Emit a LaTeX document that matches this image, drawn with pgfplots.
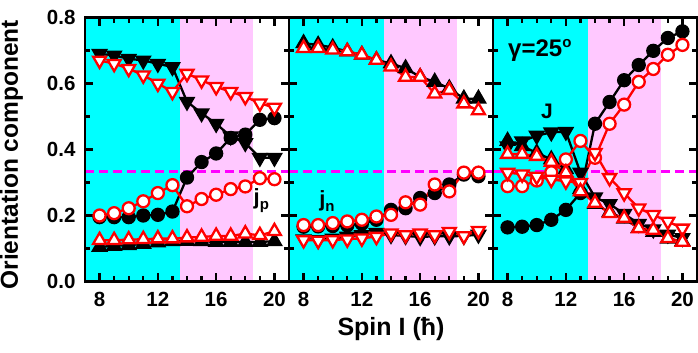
\documentclass[border=0pt]{standalone}
\usepackage{fontspec}
\setmainfont{Liberation Sans}
\usepackage{pgfplots}
\pgfplotsset{compat=1.18}
\definecolor{bgcyan}{RGB}{0,255,255}
\definecolor{bgpink}{RGB}{255,200,255}
\definecolor{dred}{RGB}{255,0,0}
\definecolor{dmag}{RGB}{255,0,255}

\pgfplotsset{
  panel/.style={
    scale only axis, width=204pt, height=264pt, anchor=south west,
    xmin=7, xmax=21, ymin=0, ymax=0.8,
    xtick={8,12,16,20}, minor xtick={9,10,11,13,14,15,17,18,19},
    ytick={0,0.2,0.4,0.6,0.8}, minor ytick={0.1,0.3,0.5,0.7},
    tick align=inside, major tick length=8pt, minor tick length=5pt,
    tick style={black, line width=2.2pt},
    axis line style={line width=2.8pt},
    ticklabel style={font=\bfseries\fontsize{20.5}{22}\selectfont},
    /pgf/number format/assume math mode=true,
    yticklabel style={xshift=-6pt, /pgf/number format/.cd, fixed, fixed zerofill, precision=1},
    xticklabel style={yshift=-7pt},
    axis on top,
  },
  bk/.style={black, line width=2.3pt, mark size=6pt},
  rd/.style={dred, line width=2.3pt, mark size=6pt, mark options={fill=white}},
  up/.style={mark=triangle*, mark size=7.5pt},
  dn/.style={mark=triangle*, mark size=7.5pt, mark options={rotate=180}},
  rdn/.style={mark=triangle*, mark size=7.5pt, mark options={rotate=180, fill=white}},
  ci/.style={mark=*},
}
\newcommand{\bgfill}{%
  \addplot[draw=none, fill=bgcyan] coordinates {(7,0.8) (13.5,0.8)} \closedcycle;
  \addplot[draw=none, fill=bgpink] coordinates {(13.5,0.8) (18.5,0.8)} \closedcycle;
  \addplot[dmag, line width=2.6pt, dash pattern=on 9pt off 5pt] coordinates {(7,0.333) (21,0.333)};
}

\begin{document}
\begin{tikzpicture}
\useasboundingbox (0,0) rectangle (698pt,353pt);

% panel 1: j_p
\begin{axis}[panel, at={(85pt,71.5pt)},
  ylabel={Orientation component},
  ylabel style={at={(axis description cs:-0.36,0.48)}, anchor=center,
    font=\bfseries\fontsize{24.5}{25}\selectfont}]
\bgfill
\addplot[bk, dn] coordinates {(8,0.69) (9,0.685) (10,0.675) (11,0.67) (12,0.66) (13,0.65) (14,0.545) (15,0.51) (16,0.478) (17,0.44) (18,0.42) (19,0.375) (20,0.375)};
\addplot[bk, ci] coordinates {(8,0.195) (9,0.195) (10,0.195) (11,0.2) (12,0.202) (13,0.212) (14,0.315) (15,0.362) (16,0.388) (17,0.435) (18,0.445) (19,0.49) (20,0.495)};
\addplot[bk, up] coordinates {(8,0.105) (9,0.108) (10,0.11) (11,0.114) (12,0.118) (13,0.122) (14,0.123) (15,0.122) (16,0.12) (17,0.12) (18,0.12) (19,0.12) (20,0.122)};
\addplot[rd, rdn] coordinates {(8,0.67) (9,0.66) (10,0.645) (11,0.625) (12,0.6) (13,0.575) (14,0.63) (15,0.61) (16,0.59) (17,0.575) (18,0.56) (19,0.54) (20,0.527)};
\addplot[rd, ci] coordinates {(8,0.2) (9,0.207) (10,0.222) (11,0.243) (12,0.268) (13,0.292) (14,0.228) (15,0.25) (16,0.263) (17,0.28) (18,0.288) (19,0.313) (20,0.31)};
\addplot[rd, up] coordinates {(8,0.125) (9,0.125) (10,0.127) (11,0.128) (12,0.13) (13,0.13) (14,0.133) (15,0.135) (16,0.138) (17,0.138) (18,0.145) (19,0.14) (20,0.152)};
\node[font=\bfseries\fontsize{22}{22}\selectfont] at (axis cs:19.1,0.245) {j\raisebox{-5pt}{\fontsize{15}{15}\selectfont p}};
\end{axis}

% panel 2: j_n
\begin{axis}[panel, at={(289pt,71.5pt)}, yticklabels={},
  xlabel={Spin I (ħ)},
  xlabel style={at={(axis description cs:0.5,0)}, anchor=center, yshift=-48pt,
    font=\bfseries\fontsize{25}{26}\selectfont}]
\bgfill
\addplot[bk, up] coordinates {(8,0.722) (9,0.717) (10,0.709) (11,0.697) (12,0.687) (13,0.671) (14,0.661) (15,0.646) (16,0.62) (17,0.605) (18,0.585) (19,0.554) (20,0.554)};
\addplot[bk, ci] coordinates {(8,0.166) (9,0.167) (10,0.168) (11,0.17) (12,0.175) (13,0.187) (14,0.217) (15,0.222) (16,0.253) (17,0.268) (18,0.294) (19,0.324) (20,0.319)};
\addplot[bk, dn] coordinates {(8,0.128) (9,0.126) (10,0.13) (11,0.136) (12,0.141) (13,0.148) (14,0.141) (15,0.138) (16,0.135) (17,0.137) (18,0.137) (19,0.138) (20,0.142)};
\addplot[rd, up] coordinates {(8,0.707) (9,0.707) (10,0.702) (11,0.697) (12,0.687) (13,0.671) (14,0.651) (15,0.62) (16,0.62) (17,0.569) (18,0.58) (19,0.539) (20,0.518)};
\addplot[rd, ci] coordinates {(8,0.171) (9,0.171) (10,0.177) (11,0.182) (12,0.187) (13,0.197) (14,0.202) (15,0.24) (16,0.233) (17,0.294) (18,0.273) (19,0.33) (20,0.33)};
\addplot[rd, rdn] coordinates {(8,0.126) (9,0.124) (10,0.126) (11,0.128) (12,0.131) (13,0.136) (14,0.146) (15,0.141) (16,0.146) (17,0.141) (18,0.151) (19,0.138) (20,0.154)};
\node[font=\bfseries\fontsize{22}{22}\selectfont] at (axis cs:9.6,0.245) {j\raisebox{-5pt}{\fontsize{15}{15}\selectfont n}};
\end{axis}

% panel 3: J
\begin{axis}[panel, at={(493pt,71.5pt)}, yticklabels={}]
\bgfill
\addplot[bk, ci] coordinates {(8,0.164) (9,0.166) (10,0.171) (11,0.187) (12,0.217) (13,0.268) (14,0.478) (15,0.544) (16,0.61) (17,0.656) (18,0.699) (19,0.738) (20,0.758)};
\addplot[bk, up] coordinates {(8,0.426) (9,0.41) (10,0.39) (11,0.37) (12,0.34) (13,0.28) (14,0.235) (15,0.21) (16,0.19) (17,0.162) (18,0.15) (19,0.13) (20,0.122)};
\addplot[bk, dn] coordinates {(8,0.41) (9,0.425) (10,0.442) (11,0.452) (12,0.454) (13,0.33) (14,0.255) (15,0.235) (16,0.205) (17,0.175) (18,0.158) (19,0.142) (20,0.132)};
\addplot[rd, ci] coordinates {(8,0.289) (9,0.289) (10,0.306) (11,0.331) (12,0.37) (13,0.426) (14,0.375) (15,0.478) (16,0.536) (17,0.605) (18,0.644) (19,0.687) (20,0.717)};
\addplot[rd, rdn] coordinates {(8,0.33) (9,0.325) (10,0.318) (11,0.309) (12,0.304) (13,0.299) (14,0.39) (15,0.314) (16,0.268) (17,0.222) (18,0.202) (19,0.182) (20,0.161)};
\addplot[rd, up] coordinates {(8,0.386) (9,0.386) (10,0.38) (11,0.362) (12,0.33) (13,0.273) (14,0.238) (15,0.207) (16,0.192) (17,0.161) (18,0.156) (19,0.131) (20,0.12)};
\node[font=\bfseries\fontsize{24}{24}\selectfont, anchor=west] at (axis cs:7.8,0.70) {γ=25\raisebox{9pt}{\fontsize{15}{15}\selectfont o}};
\node[font=\bfseries\fontsize{21}{21}\selectfont] at (axis cs:10.7,0.515) {J};
\end{axis}
\end{tikzpicture}
\end{document}
